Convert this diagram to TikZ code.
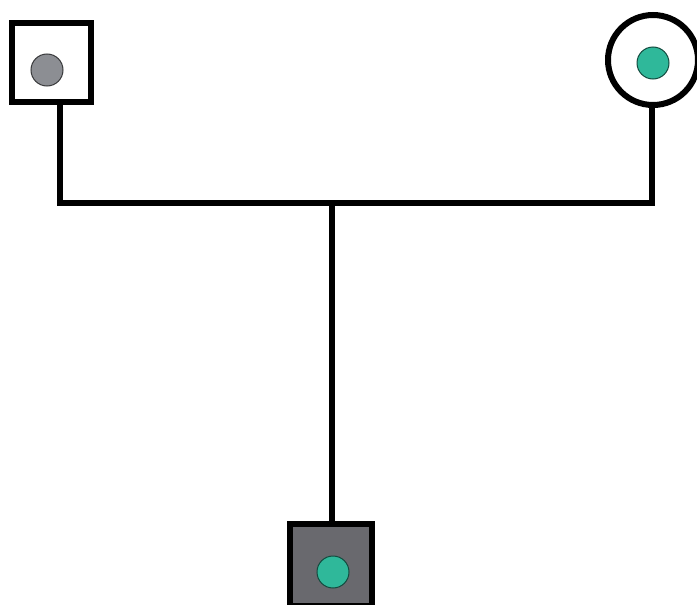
\documentclass[tikz,border=0pt]{standalone}
\begin{document}
\begin{tikzpicture}[x=1pt,y=-1pt,
  person/.style={draw=black,line width=6pt,fill=white,inner sep=0pt,minimum size=79pt},
  dot/.style={circle,inner sep=0pt,minimum size=32pt,line width=1pt},
  tealdot/.style={dot,fill=teal0,draw=teal0!40!black},
  greydot/.style={dot,fill=grey0,draw=grey0!40!black},
  link/.style={draw=black,line width=5.5pt,line join=miter}]
\definecolor{teal0}{RGB}{47,184,154}
\definecolor{grey0}{RGB}{140,142,147}
\definecolor{dark0}{RGB}{105,105,110}
\useasboundingbox (0,0) rectangle (697,605);
\fill[white] (0,0) rectangle (697,605);
\node[person,rectangle] (father) at (51.5,62) {};
\node[greydot] (fdot) at (47,70) {};
\node[person,circle,minimum size=90pt] (mother) at (653,60) {};
\node[tealdot] (mdot) at (653,63) {};
\node[person,rectangle,fill=dark0,minimum size=82pt] (child) at (331,565) {};
\node[tealdot] (cdot) at (333,572) {};
\coordinate (jl) at (60,203);
\coordinate (jr) at (652,203);
\coordinate (jm) at (332,203);
\draw[link] (father.south -| jl) -- (jl) -- (jr) -- (mother.south -| jr);
\draw[link] (jm) -- (child.north -| jm);
\end{tikzpicture}
\end{document}
